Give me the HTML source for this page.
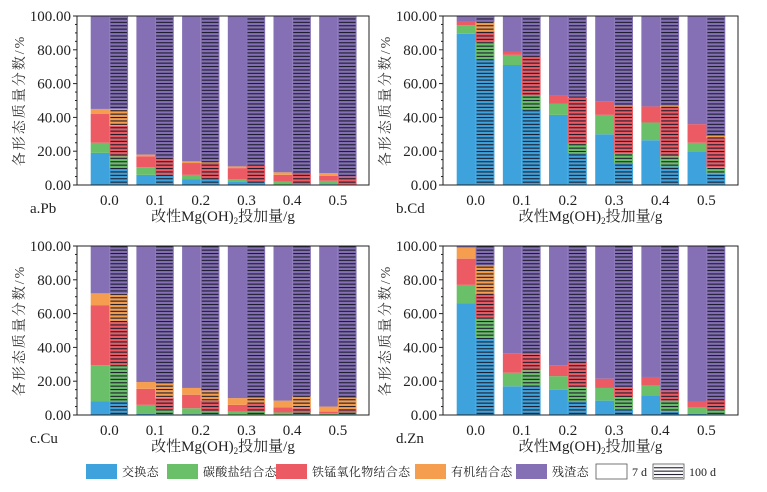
<!DOCTYPE html>
<html><head><meta charset="utf-8"><style>
body{margin:0;background:#fff;}
svg{display:block;font-family:"Liberation Serif","Noto Serif CJK SC",serif;}
</style></head><body>
<svg id="c" width="767" height="492" viewBox="0 0 767 492">
<defs>
<pattern id="hatch" patternUnits="userSpaceOnUse" width="4" height="3.4"><rect x="0" y="1.4" width="4" height="1.1" fill="#1a1a2a"/></pattern>
</defs>
</svg>
<script>
const categories=["0.0","0.1","0.2","0.3","0.4","0.5"];
const yTicks=[0,20,40,60,80,100];
const fractions=["交换态","碳酸盐结合态","铁锰氧化物结合态","有机结合态","残渣态"];
const colors=["#3ea3dc","#6abf69","#ec5a63","#f59e4f","#8570b5"];
const pb7_ex=[19,6,3.5,2,0,0.5], pb7_ca=[6,4.5,2.5,1.5,2,2], pb7_fe=[17,6.5,7,6.5,4,3], pb7_or=[3,1,1,1,1.5,1.5];
const pb100_ex=[10,6,3.5,2,0.5,0], pb100_ca=[7,0,0,0,0,0], pb100_fe=[18,10.5,9.5,10,6,5], pb100_or=[10,0,0.5,0,0,0];
const cd7_ex=[89.5,71,41.5,30,26.5,20], cd7_ca=[5,6,6.5,11.5,10.5,5], cd7_fe=[2,2,5,8,9.5,11], cd7_or=[0,0,0,0,0,0];
const cd100_ex=[74.5,45,19,13,11,6.5], cd100_ca=[10,8,5.5,5.5,6,4], cd100_fe=[6.5,23,27,28,29,17.5], cd100_or=[5.5,0,0.5,0.5,1,1];
const cu7_ex=[8,1,0.5,0.3,0.3,0.3], cu7_ca=[21.5,5,3.5,1.7,1.2,0.7], cu7_fe=[35.5,9.5,8,4,3,1], cu7_or=[7,4,4,4,4,3];
const cu100_ex=[8,0.5,0.5,0.3,0.5,0.5], cu100_ca=[21.5,2.5,1.5,1.7,1,1], cu100_fe=[25.5,7,6.5,4.5,2.5,2], cu100_or=[17,9,6,3.5,7,6.5];
const zn7_ex=[66,17,15,8.5,11.5,1], zn7_ca=[11,8,8,7.5,6,3.5], zn7_fe=[15.5,11.5,6.5,5.5,5,3.5], zn7_or=[6.5,0,0,0,0,0];
const zn100_ex=[46,17,8,3,2,0.5], zn100_ca=[11,9.5,8.5,7.5,6.5,3], zn100_fe=[14.5,9.5,15.5,6,6,5.5], zn100_or=[17,0,0,0,0,0];
const panels=[
 {name:"pb",label:"a.Pb",x0:77,x1:369,y0:16,y1:185,s7:[pb7_ex,pb7_ca,pb7_fe,pb7_or],s100:[pb100_ex,pb100_ca,pb100_fe,pb100_or]},
 {name:"cd",label:"b.Cd",x0:443,x1:738,y0:16,y1:185,s7:[cd7_ex,cd7_ca,cd7_fe,cd7_or],s100:[cd100_ex,cd100_ca,cd100_fe,cd100_or]},
 {name:"cu",label:"c.Cu",x0:77,x1:369,y0:246,y1:415,s7:[cu7_ex,cu7_ca,cu7_fe,cu7_or],s100:[cu100_ex,cu100_ca,cu100_fe,cu100_or]},
 {name:"zn",label:"d.Zn",x0:443,x1:738,y0:246,y1:415,s7:[zn7_ex,zn7_ca,zn7_fe,zn7_or],s100:[zn100_ex,zn100_ca,zn100_fe,zn100_or]}
];
const svg=document.getElementById('c');
const NS="http://www.w3.org/2000/svg";
function mk(tag,attrs,parent){const e=document.createElementNS(NS,tag);for(const k in attrs)e.setAttribute(k,attrs[k]);(parent||svg).appendChild(e);return e;}
panels.forEach(p=>{
 const g=mk('g',{});
 
 
 const W=p.x1-p.x0;
 const y=v=>p.y1-(v/100)*(p.y1-p.y0);
 const groupStart=i=>p.x0+13.7+i*W*0.1565;
 const bw=W*0.064;
 categories.forEach((c,i)=>{
  [[p.s7,0,'7d'],[p.s100,1,'100d']].forEach(([ser,k,tag])=>{
   const bx=groupStart(i)+k*bw;
   let cum=0;
   for(let f=0;f<5;f++){
    const v=f<4?ser[f][i]:100-cum;
    if(v<=0){continue;}
    const r=mk('rect',{x:bx,y:y(cum+v),width:bw,height:y(cum)-y(cum+v),fill:colors[f]},g);
    
    
    cum+=v;
   }
   if(k===1){
    const h=mk('rect',{x:bx+1,y:y(100),width:bw-2,height:y(0)-y(100),fill:'url(#hatch)'},g);
    
    
   }
  });
  const t=mk('text',{x:groupStart(i)+bw,y:p.y1+20,'font-size':15,'text-anchor':'middle',fill:'#222'},g);
  t.textContent=c;
  
  
 });
 const fr=mk('rect',{x:p.x0,y:p.y0,width:W,height:p.y1-p.y0,fill:'none',stroke:'#222','stroke-width':1},g);
 
 
 for(let v=0;v<=100;v+=5){
  const len=v%20===0?4:2;
  mk('line',{x1:p.x0-len,x2:p.x0,y1:y(v),y2:y(v),stroke:'#222','stroke-width':1},g);
 }
 yTicks.forEach(v=>{
  const t=mk('text',{x:p.x0-6,y:y(v)+5,'font-size':15,'text-anchor':'end',fill:'#222'},g);
  t.textContent=v.toFixed(2);
  
  
 });
 const yl=mk('text',{x:0,y:0,'font-size':14,'letter-spacing':2,'text-anchor':'middle',fill:'#333',transform:`translate(${p.x0-53},${(p.y0+p.y1)/2}) rotate(-90)`},g);
 yl.textContent='各形态质量分数/%';
 
 
 const xl=mk('text',{x:(p.x0+p.x1)/2,y:p.y1+36,'font-size':15,'text-anchor':'middle',fill:'#222'},g);
 xl.innerHTML='改性Mg(OH)<tspan font-size="9" dy="3">2</tspan><tspan dy="-3">投加量/g</tspan>';
 
 
 const pl=mk('text',{x:p.x0-47,y:p.y1+28,'font-size':15,fill:'#222'},g);
 pl.textContent=p.label;
 
 
});
const legendX=[86,167,276,415,516,596,653];
const legendLabels=fractions.concat(["7 d","100 d"]);
legendLabels.forEach((l,i)=>{
 const g=mk('g',{});
 
 
 mk('rect',{x:legendX[i],y:464,width:31,height:15,fill:i<5?colors[i]:'#fff',stroke:i<5?'none':'#555','stroke-width':0.8},g);
 if(i===6) mk('rect',{x:legendX[i]+1,y:465,width:29,height:13,fill:'url(#hatch)'},g);
 const t=mk('text',{x:legendX[i]+36,y:476,'font-size':12,fill:'#222','letter-spacing':i<5?0.3:0},g);
 t.textContent=l;
});
</script>
</body></html>
